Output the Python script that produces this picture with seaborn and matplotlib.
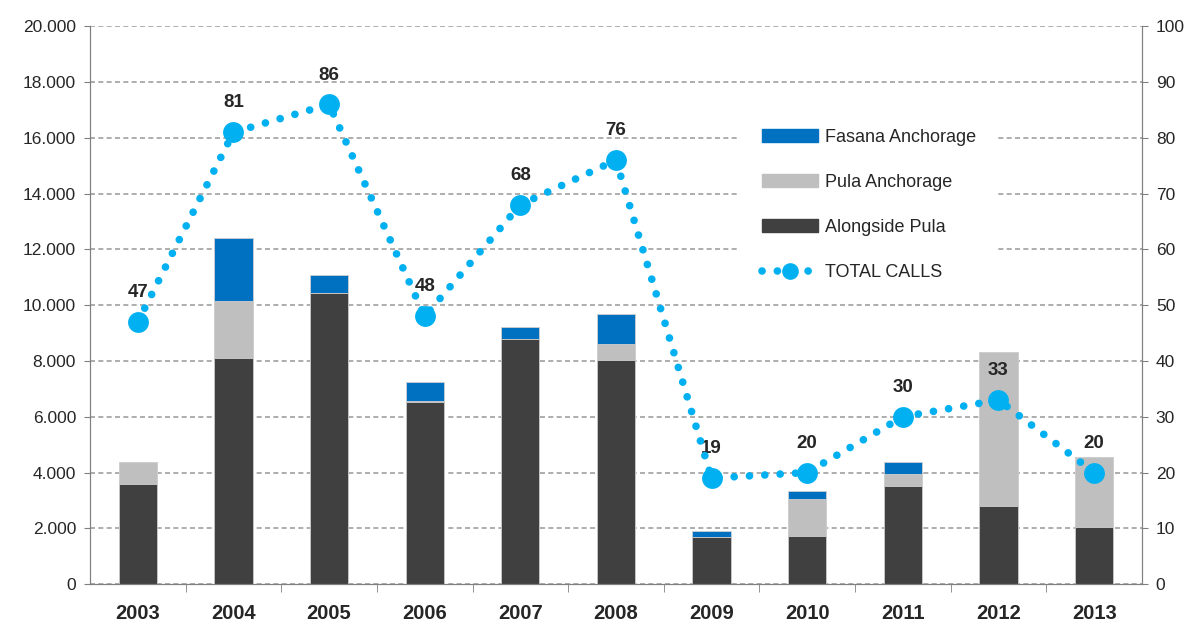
import numpy as np
import pandas as pd
import seaborn as sns
import matplotlib.pyplot as plt
import matplotlib.ticker as mticker
from matplotlib.patches import Patch
from matplotlib.lines import Line2D

years = ["2003", "2004", "2005", "2006", "2007", "2008", "2009", "2010", "2011", "2012", "2013"]
alongside_pula = [3600, 8100, 10420, 6530, 8800, 8020, 1680, 1720, 3520, 2810, 2060]
pula_anchorage = [790, 2040, 0, 50, 0, 600, 0, 1340, 430, 5510, 2490]
fasana_anchorage = [0, 2270, 670, 660, 420, 1080, 240, 290, 420, 0, 0]
total_calls = [47, 81, 86, 48, 68, 76, 19, 20, 30, 33, 20]

c_along = "#404040"
c_pula = "#BFBFBF"
c_fasana = "#0070C0"
c_line = "#00B0F0"

df = pd.DataFrame({"year": years, "along": alongside_pula,
                   "pula": pula_anchorage, "fasana": fasana_anchorage,
                   "calls": total_calls})
df["lvl2"] = df["along"] + df["pula"]
df["lvl3"] = df["lvl2"] + df["fasana"]

sns.set_style("white")
plt.rcParams["font.family"] = ["Liberation Sans", "DejaVu Sans"]

fig = plt.figure(figsize=(11.95, 6.26), dpi=100)
ax = fig.add_axes([0.0753, 0.067, 0.8803, 0.891])

# stacked bars drawn as cumulative layers
for col, color in [("lvl3", c_fasana), ("lvl2", c_pula), ("along", c_along)]:
    sns.barplot(data=df, x="year", y=col, color=color, width=0.4,
                saturation=1, edgecolor="#D0D0D0", linewidth=0.6, ax=ax, zorder=2)

ax.set_ylim(0, 20000)
ax.set_xlim(-0.5, len(years) - 0.5)
ax.yaxis.set_major_locator(mticker.MultipleLocator(2000))
ax.yaxis.set_major_formatter(mticker.FuncFormatter(lambda v, p: f"{int(v):,}".replace(",", ".")))
ax.grid(axis="y", color="#A0A0A0", linestyle=(0, (3, 2)), linewidth=1.2, zorder=0)
ax.set_axisbelow(True)
ax.set_xlabel("")
ax.set_ylabel("")
ax.tick_params(axis="y", labelsize=12.5, length=4, color="#808080", direction="out", left=True, pad=6)
ax.tick_params(axis="x", which="major", length=0, labelsize=14.5, pad=14)
ax.set_xticks(np.arange(len(years) - 1) + 0.5, minor=True)
ax.tick_params(axis="x", which="minor", length=6, color="#808080", direction="out", bottom=True)
for lab in ax.get_xticklabels():
    lab.set_fontweight("bold")
ax.spines["top"].set_visible(False)
for s in ["left", "bottom", "right"]:
    ax.spines[s].set_color("#808080")

ax2 = ax.twinx()
x = np.arange(len(years))
sns.lineplot(x=x, y=df["calls"], ax=ax2, color=c_line, linewidth=5.5,
             marker="o", markersize=15, markeredgewidth=0, zorder=5)
ln = ax2.get_lines()[0]
ln.set_linestyle((0, (0.01, 2.0)))
ln.set_dash_capstyle("round")
ax2.set_ylim(0, 100)
ax2.set_xlim(-0.5, len(years) - 0.5)
ax2.yaxis.set_major_locator(mticker.MultipleLocator(10))
ax2.set_ylabel("")
ax2.tick_params(axis="y", labelsize=12.5, length=4, color="#808080", direction="out", right=True, pad=6)
ax2.spines["top"].set_visible(False)
for s in ["left", "bottom", "right"]:
    ax2.spines[s].set_color("#808080")

for xi, v in zip(x, total_calls):
    ax2.annotate(str(v), (xi, v), xytext=(0, 15), textcoords="offset points",
                 ha="center", va="bottom", fontsize=13.5, fontweight="bold")

handles = [Patch(color=c_fasana, label="Fasana Anchorage"),
           Patch(color=c_pula, label="Pula Anchorage"),
           Patch(color=c_along, label="Alongside Pula"),
           Line2D([0], [0], color=c_line, linewidth=5.5, linestyle=(0, (0.01, 2.0)),
                  dash_capstyle="round", marker="o", markersize=12,
                  markeredgewidth=0, label="TOTAL CALLS")]
leg = ax2.legend(handles=handles, loc="upper left", bbox_to_anchor=(0.6095, 0.8706),
                 frameon=True, fancybox=False, facecolor="white", edgecolor="none",
                 framealpha=1, fontsize=13, labelspacing=1.55, handlelength=3.1,
                 handleheight=0.75, handletextpad=0.4, borderpad=1.2)

fig.savefig("out.png", dpi=100)
